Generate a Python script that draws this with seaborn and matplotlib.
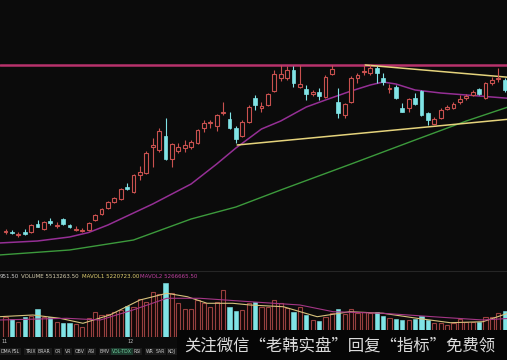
import numpy as np
import matplotlib
matplotlib.use("Agg")
import matplotlib.pyplot as plt
import seaborn as sns
from matplotlib.patches import Rectangle

# ---------------- data (price units, volume in millions) ----------------
opens = [6.8, 6.85, 6.5, 6.8, 6.77, 7.6, 7.1, 7.9, 7.45, 8.1,
         7.5, 7.05, 6.95, 7.0, 8.0, 8.6, 9.2, 9.8, 10.1, 11.3,
         10.83, 12.5, 12.73, 15.27, 15.0, 16.4, 14.07, 14.93, 15.2, 15.27,
         15.73, 17.17, 17.7, 17.4, 18.7, 18.07, 17.23, 16.4, 17.83, 20.23,
         19.23, 19.5, 20.9, 22.17, 22.17, 23.0, 21.33, 21.1, 20.57, 20.77,
         20.33, 22.57, 19.83, 18.5, 19.83, 22.23, 22.78, 22.67, 23.23, 22.17,
         21.1, 21.33, 19.17, 19.17, 20.23, 20.9, 18.67, 17.57, 18.17, 19.07,
         19.23, 19.77, 20.17, 20.5, 21.07, 20.17, 21.73, 22.12, 22.0]
closes = [6.9, 6.7, 6.55, 6.6, 7.5, 7.35, 7.83, 7.7, 7.55, 7.6,
          7.3, 7.15, 7.05, 7.73, 8.5, 9.1, 9.8, 10.2, 11.1, 11.1,
          12.5, 12.83, 14.73, 15.5, 16.9, 14.07, 15.57, 15.3, 15.5, 15.83,
          17.0, 17.73, 17.8, 18.5, 18.8, 17.17, 16.1, 17.8, 19.33, 19.5,
          19.43, 20.57, 22.57, 22.57, 23.0, 21.67, 21.57, 20.57, 20.77, 20.43,
          22.33, 23.1, 18.67, 19.57, 22.23, 22.5, 22.88, 23.23, 22.67, 21.83,
          21.2, 20.23, 18.83, 20.1, 19.57, 18.5, 18.0, 18.07, 19.0, 19.33,
          19.57, 20.1, 20.43, 20.83, 20.57, 21.67, 22.0, 22.22, 21.0]
highs = [7.1, 7.0, 6.8, 7.1, 7.6, 8.0, 7.9, 8.2, 7.8, 8.2,
         7.6, 7.4, 7.2, 7.8, 8.6, 9.2, 9.9, 10.3, 11.2, 11.7,
         12.6, 13.4, 14.9, 16.2, 17.2, 18.17, 15.7, 15.7, 16.0, 16.0,
         17.1, 18.0, 18.0, 18.6, 19.83, 18.83, 17.4, 18.0, 19.5, 20.5,
         19.8, 20.7, 23.0, 23.5, 23.4, 23.4, 23.5, 21.5, 21.0, 21.2,
         22.5, 23.5, 21.17, 19.7, 22.4, 22.7, 23.5, 23.5, 23.4, 22.7,
         21.6, 21.5, 19.7, 20.2, 20.7, 21.0, 18.83, 18.3, 19.2, 19.5,
         19.8, 20.5, 20.6, 21.0, 21.2, 21.8, 22.3, 23.2, 22.2]
lows = [6.6, 6.6, 6.3, 6.5, 6.7, 7.3, 7.0, 7.5, 7.2, 7.5,
        7.2, 6.9, 6.8, 6.9, 7.9, 8.5, 9.1, 9.7, 10.0, 11.0,
        10.7, 12.0, 12.6, 13.33, 14.8, 14.0, 13.27, 14.7, 14.8, 15.07,
        15.6, 16.83, 17.17, 16.93, 18.5, 17.1, 15.67, 16.3, 17.7, 19.0,
        18.8, 19.4, 20.8, 21.9, 22.0, 21.3, 21.25, 20.0, 20.4, 20.0,
        20.2, 22.5, 18.23, 18.2, 19.75, 21.7, 22.5, 22.5, 21.67, 21.5,
        20.7, 20.1, 18.8, 18.8, 19.5, 18.4, 17.5, 17.5, 18.1, 19.0,
        19.1, 19.6, 20.0, 20.4, 20.5, 20.1, 21.5, 21.8, 20.8]
volumes = [4.26, 3.72, 3.21, 4.14, 4.41, 5.88, 4.26, 4.26, 3.21, 3.0,
           2.88, 2.67, 2.16, 3.93, 5.19, 4.62, 4.83, 5.31, 5.67, 6.51,
           6.36, 7.92, 7.41, 9.39, 9.03, 11.28, 9.18, 7.08, 5.82, 5.82,
           7.77, 7.08, 6.36, 7.41, 9.87, 6.24, 5.52, 5.67, 7.08, 7.41,
           6.36, 6.36, 7.77, 7.2, 6.03, 5.31, 6.36, 4.62, 3.57, 3.42,
           4.26, 4.98, 5.82, 4.83, 5.82, 5.1, 5.31, 4.98, 5.31, 4.41,
           3.93, 3.72, 3.57, 3.57, 3.72, 4.41, 3.57, 2.88, 2.88, 2.52,
           2.88, 3.72, 3.21, 3.21, 3.21, 4.26, 4.26, 4.98, 5.51]

# moving-average lines (candle index, value)
ma_purple_idx = [-1, 5, 10, 13, 16, 20, 23, 26, 29, 33, 36, 40, 43, 47, 50, 54, 57, 59, 61, 64, 68, 72, 79]
ma_purple_val = [5.7, 5.9, 6.3, 6.75, 7.5, 8.7, 9.6, 10.6, 11.6, 13.6, 15.2, 17.1, 17.9, 19.3, 20.0, 20.9, 21.5, 21.8, 21.6, 21.0, 20.7, 20.5, 20.15]
ma_green_idx = [-1, 10, 20, 23, 29, 36, 43, 54, 64, 72, 79]
ma_green_val = [4.5, 5.0, 6.0, 6.7, 8.1, 9.3, 11.0, 13.6, 16.0, 17.9, 19.4]
mavol1_idx = [-1, 4.3, 8.5, 12.1, 16.3, 21, 25.2, 28.4, 31.5, 35.5, 38.2, 43.4, 48.7, 53.8, 59, 64.3, 69.5, 74.6, 79]
mavol1_val = [4.26, 4.62, 3.93, 2.88, 4.62, 7.77, 9.18, 8.46, 7.08, 7.08, 6.72, 6.36, 4.26, 5.31, 4.98, 3.93, 3.0, 3.21, 5.22]
mavol2_idx = [-1, 9.6, 14.8, 19.9, 25.2, 30.4, 38.2, 46, 51.2, 59, 66.8, 74.6, 79]
mavol2_val = [3.57, 3.93, 3.57, 5.67, 8.13, 8.13, 7.41, 6.72, 5.31, 4.98, 4.26, 3.57, 3.93]

# drawn lines
resistance = 23.5
upper_trend_idx = [56.2, 79.0]
upper_trend_val = [23.5, 22.25]
lower_trend_idx = [36.2, 79.0]
lower_trend_val = [15.5, 18.1]

header_left = "951.50"
header_vol = "VOLUME 5513263.50"
header_mv1 = "MAVOL1 5220723.00"
header_mv2 = "MAVOL2 5266665.50"
month_labels = ["11", "12"]
month_idx = [-0.7, 19]
tabs = ["DMA", "FSL", "TRIX", "BRAR", "CR", "VR", "OBV", "ASI", "EMV", "VOL-TDX", "RSI", "WR", "SAR", "KDJ"]
watermark = "关注微信“老韩实盘”回复“指标”免费领"

# ---------------- style ----------------
BG = "#0b0b0b"
RED = "#c9514f"
CYAN = "#80e4e6"
W, H = 507, 360

sns.set_theme(style="dark", rc={"axes.facecolor": BG, "figure.facecolor": BG,
                                "axes.edgecolor": BG, "grid.color": BG})
plt.rcParams['font.family'] = ['DejaVu Sans']

fig = plt.figure(figsize=(W / 100, H / 100), dpi=100, facecolor=BG)
axp = fig.add_axes([0, 95 / H, 1, 265 / H])
axv = fig.add_axes([0, 23 / H, 1, 57 / H])
XL = (-0.86, 78.36)
for ax in (axp, axv):
    ax.set_facecolor(BG)
    ax.set_xlim(*XL)
    ax.set_xticks([])
    ax.set_yticks([])
    for s in ax.spines.values():
        s.set_visible(False)
axp.set_ylim(3.5, 30)
axv.set_ylim(0, 11.97)

o = np.array(opens); c = np.array(closes); hi = np.array(highs); lo = np.array(lows)
idx = np.arange(len(o))
up = c >= o
top = np.maximum(o, c); bot = np.minimum(o, c)
hgt = np.maximum(top - bot, 0.08)

# price panel lines
axp.axhline(resistance, color="#b8326c", lw=1.8, zorder=2)
sns.lineplot(x=ma_green_idx, y=ma_green_val, ax=axp, color="#3c9a3c", lw=1.0, zorder=2)
sns.lineplot(x=ma_purple_idx, y=ma_purple_val, ax=axp, color="#952f95", lw=1.1, zorder=2)
axp.plot(upper_trend_idx, upper_trend_val, color="#e5d37c", lw=1.1, zorder=3)
axp.plot(lower_trend_idx, lower_trend_val, color="#e5d37c", lw=1.1, zorder=3)

# candles
axp.vlines(idx[up], lo[up], bot[up], color=RED, lw=0.8, zorder=4)
axp.vlines(idx[up], top[up], hi[up], color=RED, lw=0.8, zorder=4)
axp.vlines(idx[~up], lo[~up], hi[~up], color=CYAN, lw=0.8, zorder=4)
axp.bar(idx[up], hgt[up], bottom=bot[up], width=0.62, facecolor=BG, edgecolor=RED, lw=0.8, zorder=5)
axp.bar(idx[~up], hgt[~up], bottom=bot[~up], width=0.62, facecolor=CYAN, edgecolor=CYAN, lw=0.5, zorder=5)

# volume panel
v = np.array(volumes)
axv.bar(idx[up], v[up], width=0.66, facecolor="#140707", edgecolor="#98403f", lw=0.8, zorder=3)
axv.bar(idx[~up], v[~up], width=0.66, facecolor=CYAN, edgecolor=CYAN, lw=0.4, zorder=3)
sns.lineplot(x=mavol1_idx, y=mavol1_val, ax=axv, color="#d7c27c", lw=0.8, zorder=4)
sns.lineplot(x=mavol2_idx, y=mavol2_val, ax=axv, color="#a43686", lw=0.8, zorder=4)

# separator
fig.add_artist(plt.Line2D([0, 1], [1 - 271 / H] * 2, color="#262626", lw=0.8))

def ft(x, y, s, **kw):
    fig.text(x / W, 1 - y / H, s, va="center", **kw)

ft(0, 277, header_left, fontsize=4.0, color="#d0d0d0")
ft(21, 277, header_vol, fontsize=4.0, color="#d8d0b0")
ft(82, 277, header_mv1, fontsize=4.0, color="#e0cf70")
ft(140, 277, header_mv2, fontsize=4.0, color="#c040a0")

for lab, mi in zip(month_labels, month_idx):
    xx = (mi - XL[0]) / (XL[1] - XL[0]) * W
    ft(xx, 341.5, lab, fontsize=3.6, color="#c0c0c0")

tab_x = [0.5, 12, 25, 38, 55, 65, 75, 88, 100, 112, 134, 146, 156, 168]
for t, xx in zip(tabs, tab_x):
    sel = t == "VOL-TDX"
    ft(xx, 351.5, t, fontsize=3.3, color="#70d0a0" if sel else "#c8c8c8",
       bbox=dict(boxstyle="square,pad=0.2", facecolor="#1d3a2d" if sel else "#1a1a1a", edgecolor="none"))

fig.add_artist(Rectangle((177 / W, 0), (W - 177) / W, 30 / H, transform=fig.transFigure,
                         facecolor="#060606", edgecolor="none", zorder=5))
fig.text(184 / W, 1 - 346 / H, watermark, va="center", ha="left", fontsize=11.8,
         color="#dcdcdc", family=['Noto Sans CJK SC', 'DejaVu Sans'], zorder=6)

fig.savefig("out.png", dpi=100, facecolor=BG)
